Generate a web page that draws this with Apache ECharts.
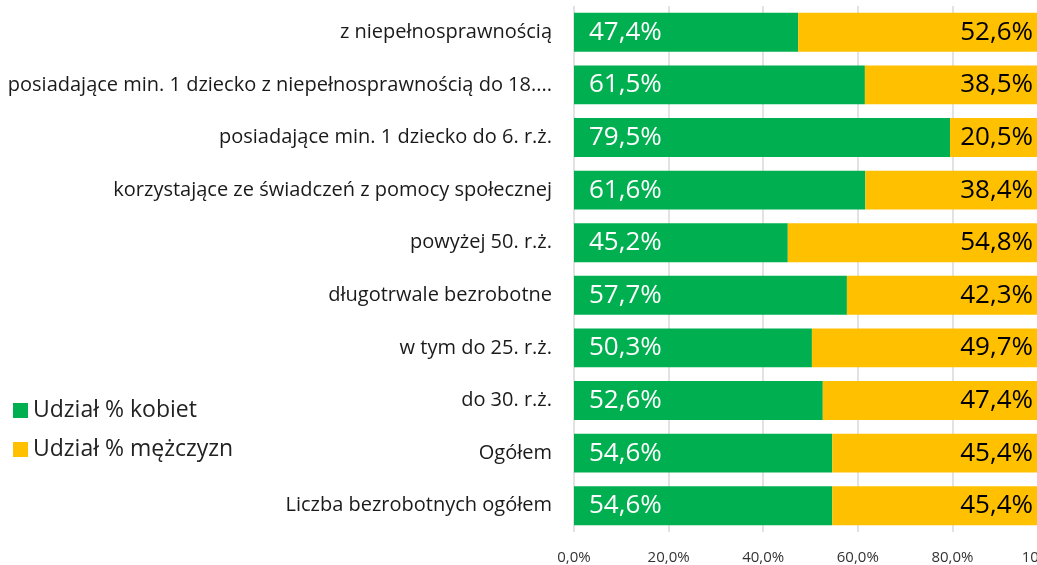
<!DOCTYPE html>
<html>
<head>
<meta charset="utf-8">
<script src="https://cdn.jsdelivr.net/npm/echarts@6/dist/echarts.min.js"></script>
<style>
  html, body { margin: 0; padding: 0; overflow: hidden; background: #fff; }
  #chart { width: 1060px; height: 565px; }
</style>
</head>
<body>
<div id="chart"></div>
<script>
// kategorie od góry do dołu
var categories = [
  'z niepełnosprawnością',
  'posiadające min. 1 dziecko z niepełnosprawnością do 18....',
  'posiadające min. 1 dziecko do 6. r.ż.',
  'korzystające ze świadczeń z pomocy społecznej',
  'powyżej 50. r.ż.',
  'długotrwale bezrobotne',
  'w tym do 25. r.ż.',
  'do 30. r.ż.',
  'Ogółem',
  'Liczba bezrobotnych ogółem'
];
var kobiety = [47.4, 61.5, 79.5, 61.6, 45.2, 57.7, 50.3, 52.6, 54.6, 54.6];
var mezczyzni = [52.6, 38.5, 20.5, 38.4, 54.8, 42.3, 49.7, 47.4, 45.4, 45.4];

var fmt = function (v) { return v.toFixed(1).replace('.', ',') + '%'; };
var font = '"Open Sans", "Noto Sans", sans-serif';

var myChart = echarts.init(document.getElementById('chart'));
myChart.setOption({
  animation: false,
  textStyle: { fontFamily: font },
  legend: {
    orient: 'vertical',
    left: 8,
    top: 394,
    itemWidth: 15,
    itemHeight: 15,
    itemGap: 16,
    icon: 'rect',
    textStyle: { fontSize: 23, color: '#222', fontFamily: font },
    data: ['Udział % kobiet', 'Udział % mężczyzn']
  },
  grid: { left: 574, right: 13, top: 6, bottom: 33, outerBoundsMode: 'none' },
  xAxis: {
    type: 'value',
    min: 0,
    max: 100,
    interval: 20,
    axisLabel: {
      formatter: function (v) { return fmt(v); },
      fontSize: 15,
      color: '#333',
      margin: 18
    },
    splitLine: { lineStyle: { color: '#d9d9d9', width: 1.5 } },
    axisLine: { show: false },
    axisTick: { show: false }
  },
  yAxis: {
    type: 'category',
    inverse: true,
    data: categories,
    axisLine: { show: false },
    axisTick: { show: false },
    axisLabel: { fontSize: 20, color: '#1a1a1a', margin: 22 }
  },
  series: [
    {
      name: 'Udział % kobiet',
      type: 'bar',
      stack: 'total',
      data: kobiety,
      barCategoryGap: '26%',
      itemStyle: { color: '#00B050' },
      label: {
        show: true,
        position: 'insideLeft',
        distance: 15,
        color: '#fff',
        fontSize: 26,
        formatter: function (p) { return fmt(p.value); }
      }
    },
    {
      name: 'Udział % mężczyzn',
      type: 'bar',
      stack: 'total',
      data: mezczyzni,
      itemStyle: { color: '#FFC000' },
      label: {
        show: true,
        position: 'insideRight',
        distance: 14,
        color: '#000',
        fontSize: 26,
        formatter: function (p) { return fmt(p.value); }
      }
    }
  ]
});
</script>
</body>
</html>
